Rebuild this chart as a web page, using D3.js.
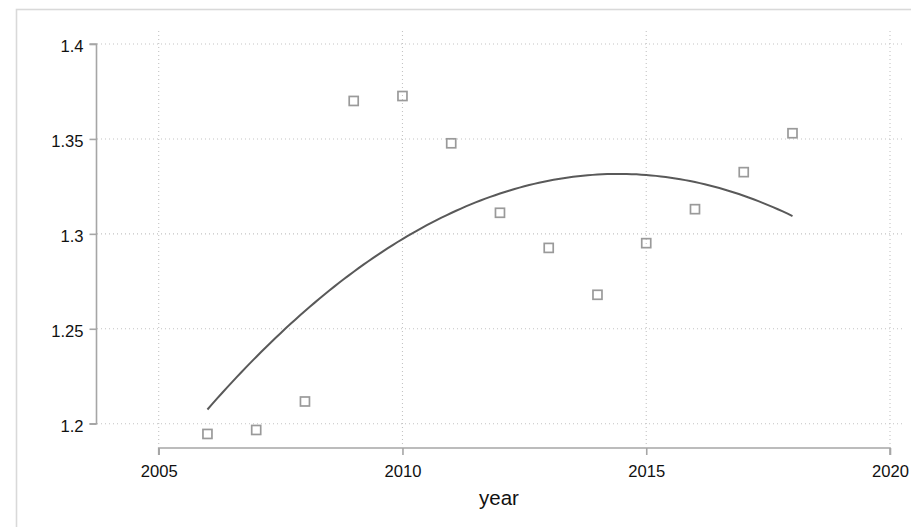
<!DOCTYPE html>
<html>
<head>
<meta charset="utf-8">
<script src="https://cdn.jsdelivr.net/npm/d3@7"></script>
<style>
  html, body { margin: 0; padding: 0; background: #fff; overflow: hidden; }
  svg { display: block; font-family: "Liberation Sans", Arial, sans-serif; }
</style>
</head>
<body>
<div id="chart"></div>
<script>
// data
var years = [2006, 2007, 2008, 2009, 2010, 2011, 2012, 2013, 2014, 2015, 2016, 2017, 2018];
var values = [1.1946, 1.1967, 1.2117, 1.370, 1.3726, 1.3477, 1.3111, 1.2926, 1.2679, 1.2951, 1.313, 1.3325, 1.353];
var xTicks = [2005, 2010, 2015, 2020];
var yTicks = [1.2, 1.25, 1.3, 1.35, 1.4];
var xTitle = "year";

var width = 911, height = 527;

var svg = d3.select("#chart").append("svg")
	.attr("width", width)
	.attr("height", height);

// outer frame (runs off the right/bottom edge like the original)
svg.append("rect")
	.attr("x", 16.5).attr("y", 9.5)
	.attr("width", 1000).attr("height", 1000)
	.style("fill", "none")
	.style("stroke", "#d9d9d9")
	.style("stroke-width", 1.6);

var x = d3.scaleLinear().domain([2005, 2020]).range([158.7, 890]);
var y = d3.scaleLinear().domain([1.2, 1.4]).range([423.7, 44]);

var grid = svg.append("g");

// horizontal grid
grid.selectAll("line.h")
	.data(yTicks)
	.enter().append("line")
	.attr("class", "h")
	.attr("x1", 97).attr("x2", 902)
	.attr("y1", function(d) { return y(d); })
	.attr("y2", function(d) { return y(d); })
	.style("stroke", "#c4c4c4")
	.style("stroke-width", 1.1)
	.style("stroke-dasharray", "1,3");

// vertical grid
grid.selectAll("line.v")
	.data(xTicks)
	.enter().append("line")
	.attr("class", "v")
	.attr("x1", function(d) { return x(d); })
	.attr("x2", function(d) { return x(d); })
	.attr("y1", 31).attr("y2", 447)
	.style("stroke", "#c4c4c4")
	.style("stroke-width", 1.1)
	.style("stroke-dasharray", "1,3");

// axes
var yAxis = svg.append("g")
	.attr("transform", "translate(96.5,0)")
	.call(d3.axisLeft(y).tickValues(yTicks).tickSize(7).tickPadding(6)
		.tickFormat(function(d) { return d3.format("")(+d.toFixed(2)); }));

var xAxis = svg.append("g")
	.attr("transform", "translate(0,448)")
	.call(d3.axisBottom(x).tickValues(xTicks).tickSize(7).tickPadding(10)
		.tickFormat(d3.format("d")));

[yAxis, xAxis].forEach(function(ax) {
	ax.select(".domain")
		.style("stroke", "#a6a6a6")
		.style("stroke-width", 1.6);
	ax.selectAll(".tick line")
		.style("stroke", "#a6a6a6")
		.style("stroke-width", 1.6);
	ax.selectAll("text")
		.style("fill", "#111")
		.style("font-size", "16.6px")
		.style("font-family", "'Liberation Sans', Arial, sans-serif");
});
yAxis.selectAll(".tick text").attr("dy", "0.45em");
yAxis.select(".domain").attr("d", "M-7," + y(1.4) + "H0V" + y(1.2) + "H-7");
xAxis.select(".domain").attr("d", "M" + x(2005) + ",7V0H" + x(2020) + "V7");

svg.append("text")
	.attr("x", 499).attr("y", 505)
	.attr("text-anchor", "middle")
	.style("font-size", "20.5px")
	.style("fill", "#111")
	.text(xTitle);

// quadratic least-squares fit of values on years
var n = years.length;
var xm = d3.mean(years);
var sums = [0, 0, 0, 0, 0], sy = [0, 0, 0];
years.forEach(function(yr, i) {
	var t = yr - xm;
	for (var k = 0; k < 5; k++) sums[k] += Math.pow(t, k);
	for (var k2 = 0; k2 < 3; k2++) sy[k2] += Math.pow(t, k2) * values[i];
});
function solve3(A, b) {
	var M = A.map(function(r, i) { return r.concat([b[i]]); });
	for (var c = 0; c < 3; c++) {
		for (var r = c + 1; r < 3; r++) {
			var f = M[r][c] / M[c][c];
			for (var k = c; k < 4; k++) M[r][k] -= f * M[c][k];
		}
	}
	var s = [0, 0, 0];
	for (var r2 = 2; r2 >= 0; r2--) {
		var v = M[r2][3];
		for (var k3 = r2 + 1; k3 < 3; k3++) v -= M[r2][k3] * s[k3];
		s[r2] = v / M[r2][r2];
	}
	return s;
}
var coef = solve3([
	[sums[0], sums[1], sums[2]],
	[sums[1], sums[2], sums[3]],
	[sums[2], sums[3], sums[4]]
], sy);
var fitPts = d3.range(years[0], years[n - 1] + 0.001, 0.1).map(function(yr) {
	var t = yr - xm;
	return [yr, coef[0] + coef[1] * t + coef[2] * t * t];
});

svg.append("path")
	.datum(fitPts)
	.attr("d", d3.line()
		.x(function(d) { return x(d[0]); })
		.y(function(d) { return y(d[1]); }))
	.style("fill", "none")
	.style("stroke", "#595959")
	.style("stroke-width", 2);

// markers
svg.selectAll("rect.pt")
	.data(years)
	.enter().append("rect")
	.attr("class", "pt")
	.attr("x", function(d) { return x(d) - 4.5; })
	.attr("y", function(d, i) { return y(values[i]) - 4.5; })
	.attr("width", 9).attr("height", 9)
	.style("fill", "none")
	.style("stroke", "#9a9a9a")
	.style("stroke-width", 1.7);
</script>
</body>
</html>
